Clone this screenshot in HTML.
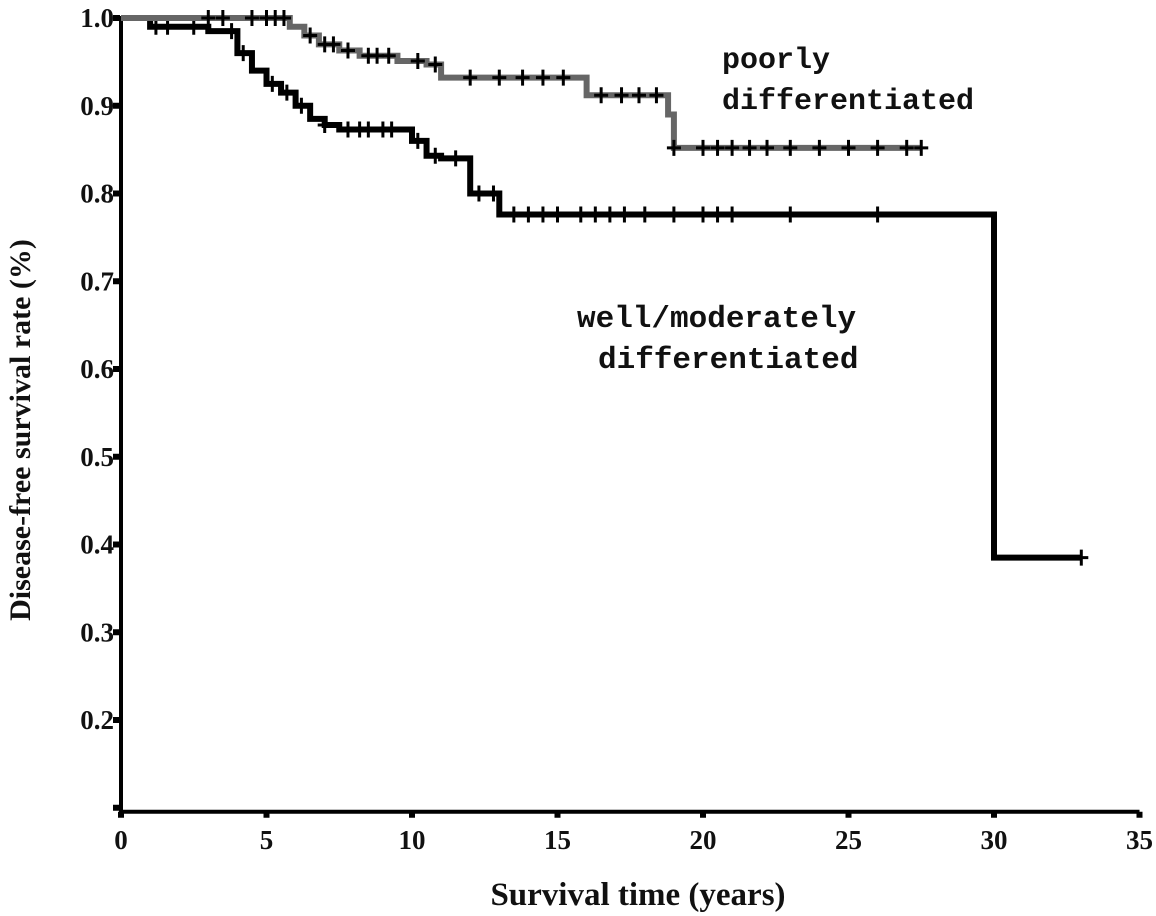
<!DOCTYPE html>
<html><head><meta charset="utf-8"><style>
html,body{margin:0;padding:0;background:#fff;width:1156px;height:916px;overflow:hidden}
svg{display:block}
.tick{font-family:"Liberation Serif",serif;font-weight:bold;font-size:27px;fill:#111}
.ann{font-family:"Liberation Mono",monospace;font-weight:bold;font-size:30px;fill:#111}
</style></head><body>
<svg id="chart" width="1156" height="916">
<g id="axes"></g>
<g id="series"></g>
<text x="638" y="905" style="font-family:'Liberation Serif',serif;font-weight:bold;font-size:33px;fill:#111" text-anchor="middle">Survival time (years)</text>
<text style="font-family:'Liberation Serif',serif;font-weight:bold;font-size:30px;fill:#111" transform="translate(30,430) rotate(-90)" text-anchor="middle">Disease-free survival rate (%)</text>
<text class="ann" x="722" y="68">poorly</text>
<text class="ann" x="722" y="109">differentiated</text>
<text class="ann" x="577" y="327" style="font-size:31px">well/moderately</text>
<text class="ann" x="598" y="368" style="font-size:31px">differentiated</text>
</svg>
<script>
const xTicks=[0,5,10,15,20,25,30,35];
const yTicks=[0.1,0.2,0.3,0.4,0.5,0.6,0.7,0.8,0.9,1.0];
const yTickLabels=["","0.2","0.3","0.4","0.5","0.6","0.7","0.8","0.9","1.0"];
// step curves: [time, survival after time]
const poorTimes=[0,5.8,6.3,6.8,7.5,8.2,9.5,10.5,11,16,18.8,19];
const poorVals=[1.0,0.99,0.98,0.97,0.963,0.957,0.951,0.947,0.932,0.912,0.89,0.852];
const poorEnd=27.5;
const poorCensor=[3,3.5,4.5,5,5.3,5.6,6.5,7,7.3,7.8,8.5,8.8,9.2,10.2,10.8,12,13,13.8,14.5,15.2,16.5,17.2,17.8,18.4,19,20,20.5,21,21.6,22.2,23,24,25,26,27,27.5];
const wellTimes=[0,1,3,4,4.5,5,5.5,6,6.5,7,7.5,10,10.5,11,12,13,30];
const wellVals=[1.0,0.99,0.985,0.96,0.94,0.925,0.915,0.9,0.885,0.878,0.873,0.86,0.843,0.84,0.80,0.776,0.385];
const wellEnd=33;
const wellCensor=[1.2,1.6,2.5,3.8,4.2,5.2,5.7,6.2,7,7.8,8.2,8.5,9,9.3,10.2,10.8,11.5,12.3,12.8,13.5,14,14.5,15,15.8,16.3,16.8,17.3,18,19,20,20.5,21,23,26,33];
const X=t=>121+t*29.1, Y=v=>18+(1-v)*877.5;
const ns="http://www.w3.org/2000/svg";
function mk(tag,attrs,parent){const e=document.createElementNS(ns,tag);for(const k in attrs)e.setAttribute(k,attrs[k]);parent.appendChild(e);return e;}
const ax=document.getElementById('axes');
let e=mk('line',{x1:X(0),y1:Y(1.0)-2,x2:X(0),y2:Y(0.1)+4,stroke:'#000','stroke-width':4},ax);


e=mk('line',{x1:X(0)-2,y1:Y(0.1)+4,x2:X(35),y2:Y(0.1)+4,stroke:'#000','stroke-width':4},ax);


xTicks.forEach(t=>{
 let m=mk('rect',{x:X(t)-3,y:Y(0.1)+4,width:6,height:6,fill:'#000'},ax);
 
 
 let l=mk('text',{x:X(t),y:Y(0.1)+41,'text-anchor':'middle',class:'tick'},ax);l.textContent=t;
 
 
});
yTicks.forEach((v,i)=>{
 let m=mk('rect',{x:X(0)-8,y:Y(v)-3,width:7,height:6,fill:'#000'},ax);
 
 
 let l=mk('text',{x:X(0)-7,y:Y(v)+9,'text-anchor':'end',class:'tick'},ax);l.textContent=yTickLabels[i];
 
 
});
function valAt(times,vals,t){let v=vals[0];for(let i=0;i<times.length;i++){if(times[i]<=t)v=vals[i];}return v;}
function draw(times,vals,end,censor,color,name){
 const g=document.getElementById('series');
 let d='M'+X(times[0])+','+Y(vals[0]);
 for(let i=1;i<times.length;i++){d+=' H'+X(times[i])+' V'+Y(vals[i]);}
 d+=' H'+X(end);
 let p=mk('path',{d:d,fill:'none',stroke:color,'stroke-width':6},g);
 
 
 censor.forEach(t=>{
  const y=Y(valAt(times,vals,t));
  let c=mk('path',{d:'M'+(X(t)-7)+','+y+' H'+(X(t)+7)+' M'+X(t)+','+(y-8)+' V'+(y+8),stroke:'#000','stroke-width':3,fill:'none'},g);
  
  
 });
}
draw(wellTimes,wellVals,wellEnd,wellCensor,'#000','well-differentiated');
draw(poorTimes,poorVals,poorEnd,poorCensor,'#666','poorly-differentiated');
</script>
</body></html>
